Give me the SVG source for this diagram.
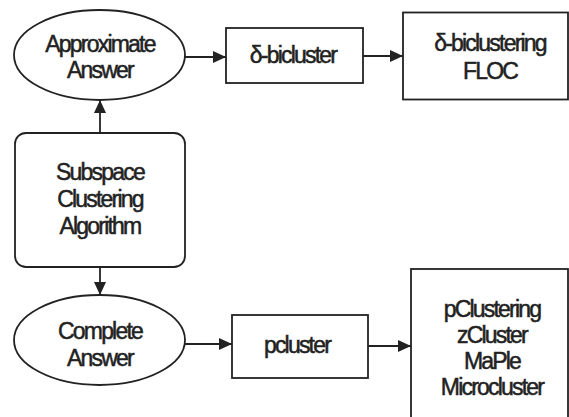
<svg xmlns="http://www.w3.org/2000/svg" width="569" height="417" viewBox="0 0 569 417">
<style>
.s{fill:#fff;stroke:#222;stroke-width:1.8}
.t{font-family:"Liberation Sans",Arial,sans-serif;font-size:23px;letter-spacing:-1.8px;fill:#222;stroke:#222;stroke-width:0.5;text-anchor:middle}
.c{stroke:#222;stroke-width:1.8;fill:none}
</style>
<defs>
<marker id="a" viewBox="0 0 13 12" refX="13" refY="6" markerWidth="13" markerHeight="12" markerUnits="userSpaceOnUse" orient="auto">
<path d="M0,0L13,6L0,12Z" fill="#222"/>
</marker>
</defs>
<rect width="569" height="417" fill="#fff"/>
<g id="connectors">
<line class="c" x1="185" y1="57" x2="226" y2="57" marker-end="url(#a)"/>
<line class="c" x1="363" y1="56" x2="403" y2="56" marker-end="url(#a)"/>
<line class="c" x1="100" y1="133" x2="100" y2="100" marker-end="url(#a)"/>
<line class="c" x1="100" y1="267" x2="100" y2="295" marker-end="url(#a)"/>
<line class="c" x1="185" y1="344" x2="232" y2="344" marker-end="url(#a)"/>
<line class="c" x1="368" y1="346" x2="411" y2="346" marker-end="url(#a)"/>
</g>
<g id="approx">
<ellipse class="s" cx="99.5" cy="55" rx="85.5" ry="45"/>
<text class="t" x="100" y="52">Approximate</text>
<text class="t" x="100" y="78">Answer</text>
</g>
<g id="dbicluster">
<rect class="s" x="226" y="28" width="137" height="55"/>
<text class="t" x="293" y="63">δ-bicluster</text>
</g>
<g id="floc">
<rect class="s" x="403" y="12.5" width="165" height="87"/>
<text class="t" x="490" y="51">δ-biclustering</text>
<text class="t" x="490" y="79">FLOC</text>
</g>
<g id="subspace">
<rect class="s" x="15" y="133" width="170" height="134" rx="11"/>
<text class="t" x="100" y="180">Subspace</text>
<text class="t" x="100" y="207">Clustering</text>
<text class="t" x="100" y="234">Algorithm</text>
</g>
<g id="complete">
<ellipse class="s" cx="99.5" cy="340" rx="85.5" ry="45"/>
<text class="t" x="100" y="339">Complete</text>
<text class="t" x="100" y="366">Answer</text>
</g>
<g id="pcluster">
<rect class="s" x="232" y="315" width="136" height="63"/>
<text class="t" x="297" y="353">pcluster</text>
</g>
<g id="methods">
<rect class="s" x="411" y="269" width="157" height="160"/>
<text class="t" x="492" y="317">pClustering</text>
<text class="t" x="492" y="343">zCluster</text>
<text class="t" x="492" y="369">MaPle</text>
<text class="t" x="492" y="395">Microcluster</text>
</g>
</svg>
